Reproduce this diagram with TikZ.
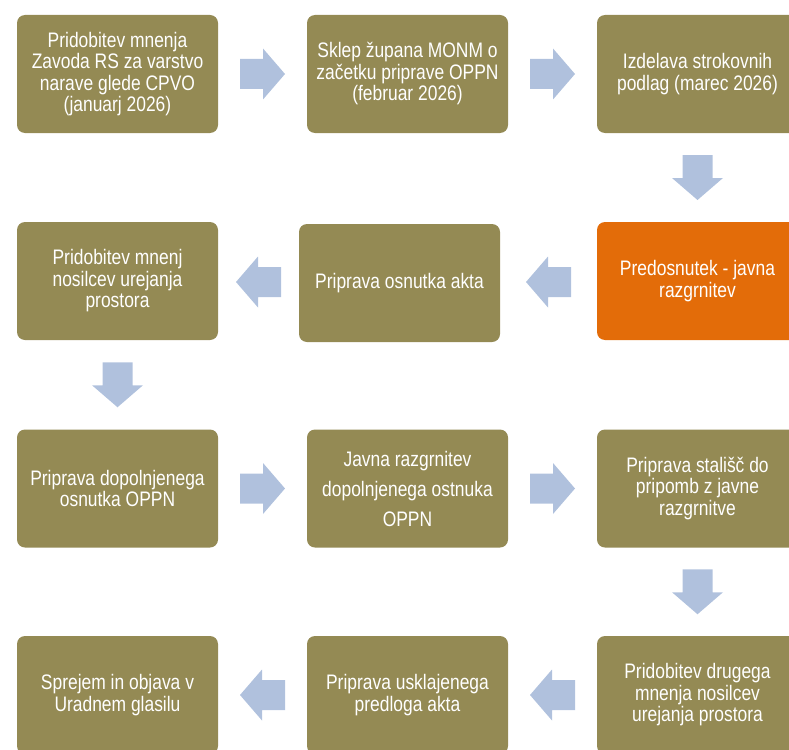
\documentclass[tikz,border=0pt]{standalone}
\usepackage{fontspec}
\setmainfont{Liberation Sans}
\newfontfamily\boxfont[FakeStretch=0.83]{Liberation Sans}
\usetikzlibrary{calc}
\definecolor{olive}{HTML}{948A54}
\definecolor{orangebox}{HTML}{E36C09}
\definecolor{arrowblue}{HTML}{B0C1DD}
\tikzset{
  stepbox/.style={draw=none, fill=olive, rounded corners=8pt, minimum width=201pt,
    minimum height=118pt, inner sep=0pt, align=center, text=white,
    font=\boxfont\fontsize{21}{21.5}\selectfont},
  hotbox/.style={stepbox, fill=orangebox},
  barrow/.pic={\fill[arrowblue] (-22.5,-15) -- (0.5,-15) -- (0.5,-25.5) -- (22.5,0)
      -- (0.5,25.5) -- (0.5,15) -- (-22.5,15) -- cycle;}
}
\begin{document}
\begin{tikzpicture}[x=1pt,y=1pt]
\useasboundingbox (0,0) rectangle (789,-749);
\clip (0,0) rectangle (789,-749);
% row 1
\node[stepbox] (a1) at (117.5,-74) {Pridobitev mnenja\\Zavoda RS za varstvo\\narave glede CPVO\\(januarj 2026)};
\node[stepbox] (a2) at (407.5,-74) {Sklep župana MONM o\\začetku priprave OPPN\\(februar 2026)};
\node[stepbox] (a3) at (697.5,-74) {Izdelava strokovnih\\podlag (marec 2026)};
% row 2
\node[hotbox] (b3) at (697.5,-281) {Predosnutek - javna\\razgrnitev};
\node[stepbox] (b2) at (399.5,-283) {Priprava osnutka akta};
\node[stepbox] (b1) at (117.5,-281) {Pridobitev mnenj\\nosilcev urejanja\\prostora};
% row 3
\node[stepbox] (c1) at (117.5,-488.5) {Priprava dopolnjenega\\osnutka OPPN};
\node[stepbox, font=\boxfont\fontsize{21}{30}\selectfont] (c2) at (407.5,-488.5) {Javna razgrnitev\\dopolnjenega ostnuka\\OPPN};
\node[stepbox] (c3) at (697.5,-488.5) {Priprava stališč do\\pripomb z javne\\razgrnitve};
% row 4
\node[stepbox] (d3) at (697.5,-695) {Pridobitev drugega\\mnenja nosilcev\\urejanja prostora};
\node[stepbox] (d2) at (407.5,-695) {Priprava usklajenega\\predloga akta};
\node[stepbox] (d1) at (117.5,-695) {Sprejem in objava v\\Uradnem glasilu};
% connectors (block arrows)
\pic at ($(a1.east)!0.5!(a2.west)$) {barrow};
\pic at ($(a2.east)!0.5!(a3.west)$) {barrow};
\pic[rotate=-90] at ($(a3.south)!0.5!(b3.north)$) {barrow};
\pic[rotate=180] at ($(b3.west)!0.5!(b2.east)$) {barrow};
\pic[rotate=180] at ($(b2.west)!0.5!(b1.east)$) {barrow};
\pic[rotate=-90] at ($(b1.south)!0.5!(c1.north)$) {barrow};
\pic at ($(c1.east)!0.5!(c2.west)$) {barrow};
\pic at ($(c2.east)!0.5!(c3.west)$) {barrow};
\pic[rotate=-90] at ($(c3.south)!0.5!(d3.north)$) {barrow};
\pic[rotate=180] at ($(d3.west)!0.5!(d2.east)$) {barrow};
\pic[rotate=180] at ($(d2.west)!0.5!(d1.east)$) {barrow};
\end{tikzpicture}
\end{document}
